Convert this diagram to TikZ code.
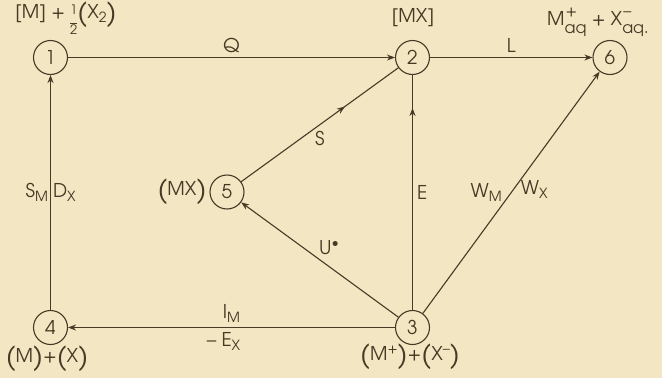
\documentclass[tikz,border=0pt]{standalone}
\usepackage{fontspec}
\setmainfont{TeX Gyre Adventor}
\usetikzlibrary{arrows.meta,decorations.markings}
\definecolor{bg}{RGB}{243,231,195}
\definecolor{ink}{RGB}{70,58,38}
\newcommand{\bp}[1]{{\raisebox{-3pt}{\fontsize{27}{27}\selectfont #1}}}
\newcommand{\sbs}[1]{\raisebox{-4pt}{\fontsize{14}{14}\selectfont #1}}
\newcommand{\sps}[1]{\raisebox{7pt}{\fontsize{14}{14}\selectfont #1}}
\newcommand{\spsb}[2]{\raisebox{-1pt}{\fontsize{16}{16}\selectfont\begin{tabular}{@{}l@{}}\hspace{1pt}#1\\[1pt]#2\end{tabular}}}
\newcommand{\half}{\raisebox{-6pt}{\fontsize{13}{13}\selectfont\begin{tabular}{@{}c@{}}1\\[-4pt]\rule{7pt}{0.9pt}\\[-3pt]2\end{tabular}}}
\begin{document}
\begin{tikzpicture}[x=1pt,y=-1pt,
  every node/.style={text=ink,font=\fontsize{19}{22}\selectfont},
  st/.style={circle,draw=ink,line width=1.1pt,minimum size=34pt,inner sep=0pt},
  arr/.style={draw=ink,line width=1.1pt,-{Stealth[length=8pt,width=6pt,inset=2.5pt]}},
  ln/.style={draw=ink,line width=1.1pt},
  midarr/.style={postaction={decorate},decoration={markings,mark=at position #1 with {\arrow{Stealth[length=8pt,width=6pt,inset=2.5pt]}}}}]
\fill[bg] (0,0) rectangle (662,378);
\useasboundingbox (0,0) rectangle (662,378);
\node[st] (n1) at (50.5,57.5) {1};
\node[st] (n2) at (412.5,57.5) {2};
\node[st] (n6) at (610,57.5) {6};
\node[st] (n4) at (50.5,327.5) {4};
\node[st] (n3) at (412.5,327.5) {3};
\node[st] (n5) at (227,192) {5};
% state labels
\node (l1) at (66,20) {[M] + \half\bp{(}X\sbs{2}\bp{)}};
\node (l2) at (413,18) {[MX]};
\node[anchor=west,inner sep=0pt] (l6) at (547,22) {M\spsb{+}{aq} + X\spsb{–}{aq.}};
\node[anchor=east] (l5) at (210,192) {\bp{(}MX\bp{)}};
\node (l4) at (47,359) {\bp{(}M\bp{)}+\bp{(}X\bp{)}};
\node (l3) at (410,357) {\bp{(}M\sps{+}\bp{)}+\bp{(}X\sps{–}\bp{)}};
% connectors
\draw[arr] (n1) -- node[above=1pt] (q) {Q} (n2);
\draw[arr] (n2) -- node[above=1pt] (lL) {L} (n6);
\draw[arr] (n4) -- node[pos=0.5,anchor=east,inner sep=2pt] (sm) {S\sbs{M}} node[pos=0.5,anchor=west,inner sep=2pt] (dx) {D\sbs{X}} (n1);
\draw[arr] (n3) -- node[above=1pt] (im) {I\sbs{M}} node[below=1pt,xshift=-8pt] (ex) {– E\sbs{X}} (n4);
\draw[arr] (n3) -- node[pos=0.5,anchor=east,inner sep=9pt] (wm) {W\sbs{M}} node[pos=0.5,anchor=west,inner sep=9pt,yshift=3pt] (wx) {W\sbs{X}} (n6);
\draw[arr] (n3) -- node[pos=0.52,anchor=south west,inner sep=2pt] (us) {U\sps{\textbullet}} (n5);
\draw[ln,midarr=0.66] (n5) -- node[pos=0.5,anchor=north,inner sep=6pt] (s) {S} (n2);
\draw[ln,midarr=0.86] (n3) -- node[pos=0.5,anchor=west,inner sep=4pt] (e) {E} (n2);
\end{tikzpicture}
\end{document}
